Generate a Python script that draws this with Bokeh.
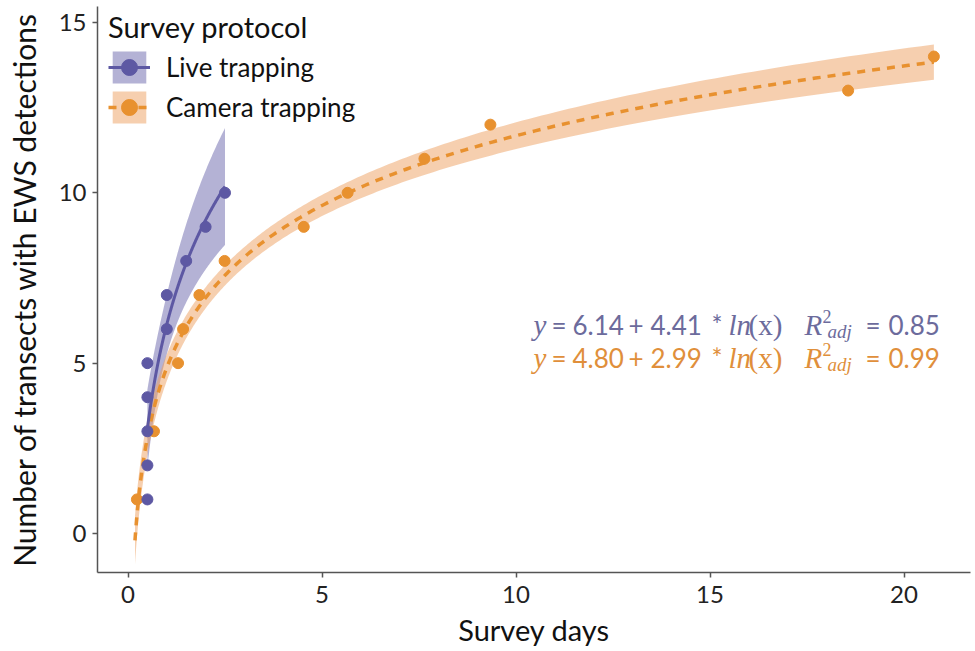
import numpy as np
from bokeh.plotting import figure
from bokeh.models import Range1d, Legend, LegendItem, Label, FixedTicker
from bokeh.embed import file_html
from bokeh.resources import INLINE

# ---------------- data ----------------
live_days = [0.5, 0.5, 0.5, 0.5, 0.5, 1.0, 1.0, 1.5, 2.0, 2.5]
live_transects = [1, 2, 3, 4, 5, 6, 7, 8, 9, 10]
camera_days = [0.23, 0.67, 1.29, 1.42, 1.84, 2.49, 4.53, 5.66, 7.64, 9.34, 18.56, 20.77]
camera_transects = [1, 3, 5, 6, 7, 8, 9, 10, 11, 12, 13, 14]
x_ticks = [0, 5, 10, 15, 20]
y_ticks = [0, 5, 10, 15]
live_equation = ["6.14", "4.41", "0.85"]
camera_equation = ["4.80", "2.99", "0.99"]
live_fit_range = [0.5, 2.5]
camera_fit_range = [0.18, 20.77]
series_labels = ["Live trapping", "Camera trapping"]
legend_title = "Survey protocol"
x_title = "Survey days"
y_title = "Number of transects with EWS detections"

# ---------------- styles ----------------
PURPLE = "#5d58a3"
PURPLE_BAND = "#7b77b5"
ORANGE = "#e8912f"
ORANGE_BAND = "#eda060"
PURPLE_TXT = "#6c6b9c"
ORANGE_TXT = "#e08f3b"
FONT = "Lato"
SERIF = "Liberation Serif"

# t critical values (95 %, two sided) for the residual degrees of freedom
T95 = {8: 2.306, 10: 2.228}


def log_fit(xs, ys, lo, hi, n=300):
    lx = np.log(np.asarray(xs, float))
    y = np.asarray(ys, float)
    b, a = np.polyfit(lx, y, 1)
    res = y - (a + b * lx)
    dof = len(y) - 2
    s = np.sqrt((res ** 2).sum() / dof)
    sxx = ((lx - lx.mean()) ** 2).sum()
    gx = np.geomspace(lo, hi, n)
    gl = np.log(gx)
    fit = a + b * gl
    se = s * np.sqrt(1.0 / len(y) + (gl - lx.mean()) ** 2 / sxx)
    t = T95.get(dof, 2.2)
    return gx, fit, fit - t * se, fit + t * se


lx, lfit, llo, lhi = log_fit(live_days, live_transects, *live_fit_range)
cx, cfit, clo, chi = log_fit(camera_days, camera_transects, *camera_fit_range)

# frame geometry (pixels) used for placing annotation text
X0_PX, X_PER = 127.5, 38.8
Y0_PX, Y_PER = 533.0, 34.07
FRAME_L, FRAME_R, FRAME_T, FRAME_B = 97, 970, 6, 572


def px2x(px):
    return (px - X0_PX) / X_PER


def px2y(py):
    return (Y0_PX - py) / Y_PER


p = figure(width=975, height=651,
           x_range=Range1d(px2x(FRAME_L), px2x(FRAME_R)),
           y_range=Range1d(px2y(FRAME_B), px2y(FRAME_T)),
           output_backend="svg", toolbar_location=None,
           min_border_left=FRAME_L, min_border_right=975 - FRAME_R,
           min_border_top=FRAME_T, min_border_bottom=651 - FRAME_B)

p.outline_line_color = None
p.grid.visible = False
p.background_fill_color = "white"
p.border_fill_color = "white"

# bands
live_band = p.varea(x=lx, y1=llo, y2=lhi, fill_color=PURPLE_BAND, fill_alpha=0.57)
cam_band = p.varea(x=cx, y1=clo, y2=chi, fill_color=ORANGE_BAND, fill_alpha=0.5)
# fit lines
cam_line = p.line(cx, cfit, line_color=ORANGE, line_width=3.5, line_dash="8 7")
live_line = p.line(lx, lfit, line_color=PURPLE, line_width=3)
# points
cam_pts = p.scatter(camera_days, camera_transects, size=11, fill_color=ORANGE, line_color=ORANGE)
live_pts = p.scatter(live_days, live_transects, size=11, fill_color=PURPLE, line_color=PURPLE)

# axes
p.xaxis.ticker = FixedTicker(ticks=x_ticks)
p.yaxis.ticker = FixedTicker(ticks=y_ticks)
p.xaxis.axis_label = x_title
p.yaxis.axis_label = y_title
for ax in (p.xaxis, p.yaxis):
    ax.minor_tick_line_color = None
    ax.axis_line_color = "#555555"
    ax.axis_line_width = 1.5
    ax.major_tick_line_color = "#555555"
    ax.major_tick_line_width = 1.5
    ax.major_tick_out = 5
    ax.major_tick_in = 0
    ax.major_label_text_font = FONT
    ax.major_label_text_font_size = "24px"
    ax.major_label_text_color = "#222222"
    ax.axis_label_text_font = FONT
    ax.axis_label_text_font_style = "normal"
    ax.axis_label_text_color = "#111111"
p.xaxis.axis_label_text_font_size = "29px"
p.yaxis.axis_label_text_font_size = "30px"
p.xaxis.major_label_standoff = 8
p.xaxis.axis_label_standoff = 6
p.yaxis.major_label_standoff = 6
p.yaxis.axis_label_standoff = 14

# legend
legend = Legend(
    items=[LegendItem(label=series_labels[0], renderers=[live_band, live_line, live_pts]),
           LegendItem(label=series_labels[1], renderers=[cam_band, cam_line, cam_pts])],
    title=legend_title, location=(11, FRAME_B - 127),
    glyph_width=42, glyph_height=40, label_standoff=16, spacing=0,
    padding=0, margin=0, border_line_color=None, background_fill_alpha=0,
    label_text_font=FONT, label_text_font_size="26px", label_text_color="#111111",
    title_text_font=FONT, title_text_font_size="29px", title_text_font_style="normal",
    title_text_color="#111111", title_standoff=3)
p.add_layout(legend)


# equations
def equation(vals, color, base_py):
    pieces = [
        ("y", SERIF, "italic", 29, 533, 0),
        ("=", FONT, "normal", 26, 551, 0),
        (vals[0], FONT, "normal", 26, 572, 0),
        ("+", FONT, "normal", 26, 628, 0),
        (vals[1], FONT, "normal", 26, 650, 0),
        ("*", FONT, "normal", 26, 711, 0),
        ("ln", SERIF, "italic", 29, 728, 0),
        ("(x)", SERIF, "normal", 29, 748, 0),
        ("R", SERIF, "italic", 29, 804, 0),
        ("2", SERIF, "normal", 18, 822, -8),
        ("adj", SERIF, "italic", 19, 827, 7),
        ("=", FONT, "normal", 26, 865, 0),
        (vals[2], FONT, "normal", 26, 888, 0),
    ]
    for txt, font, style, size, xpx, dy in pieces:
        p.add_layout(Label(x=px2x(xpx), y=px2y(base_py + dy), text=txt,
                           text_font=font, text_font_style=style,
                           text_font_size=f"{size}px", text_color=color,
                           text_align="left", text_baseline="alphabetic"))


equation(live_equation, PURPLE_TXT, 324)
equation(camera_equation, ORANGE_TXT, 357)

open("out.html", "w").write(file_html(p, INLINE))
